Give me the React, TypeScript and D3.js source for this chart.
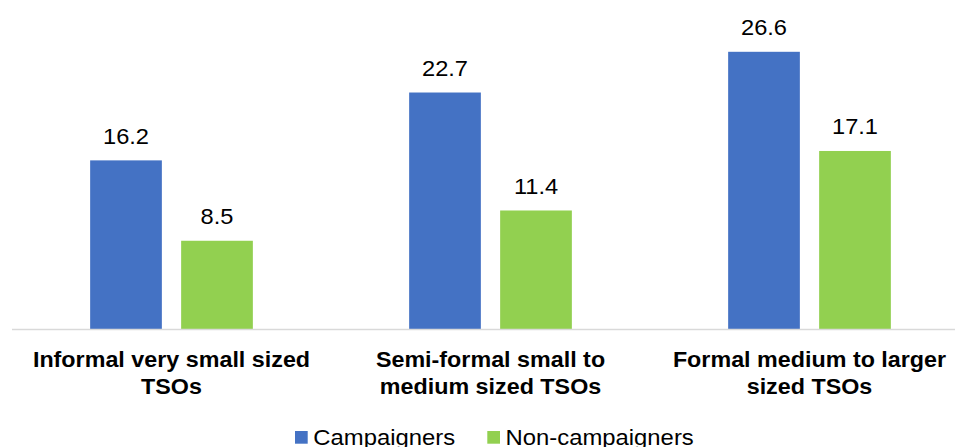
import React from "react";
import * as d3 from "d3";

const categories: string[][] = [
  ["Informal very small sized", "TSOs"],
  ["Semi-formal small to", "medium sized TSOs"],
  ["Formal medium to larger", "sized TSOs"],
];
const seriesNames = ["Campaigners", "Non-campaigners"];
const campaigners = [16.2, 22.7, 26.6];
const nonCampaigners = [8.5, 11.4, 17.1];
const seriesColors = ["#4472C4", "#92D050"];

const W = 955;
const H = 447;
const FONT = "Arial, 'Liberation Sans', Helvetica, sans-serif";
const SX = 1.06; // slight horizontal stretch of the text glyphs

export default function App() {
  const catKeys = categories.map((c) => c.join(" "));
  const x = d3.scaleBand<string>().domain(catKeys).range([12, 969]).paddingInner(0).paddingOuter(0);
  const groupW = 162.7;
  const y = d3.scaleLinear().domain([0, 30]).range([329.5, 16.3]);
  const values = [campaigners, nonCampaigners];

  const stretched = (tx: number, ty: number) => `translate(${tx},${ty}) scale(${SX},1)`;

  return (
    <svg
      width={W}
      height={H}
      style={{ position: "absolute", left: 0, top: 0, background: "#fff" }}
      fontFamily={FONT}
    >
      {catKeys.map((key, ci) => {
        const center = (x(key) ?? 0) + x.bandwidth() / 2;
        const inner = d3
          .scaleBand<string>()
          .domain(seriesNames)
          .range([center - groupW / 2, center + groupW / 2])
          .paddingInner(0.212)
          .paddingOuter(0);
        return (
          <g key={key}>
            {seriesNames.map((s, si) => {
              const v = values[si][ci];
              const bx = inner(s) ?? 0;
              const bw = inner.bandwidth();
              return (
                <g key={s}>
                  <rect x={bx} y={y(v)} width={bw} height={y(0) - y(v)} fill={seriesColors[si]} />
                  <text
                    transform={stretched(bx + bw / 2, y(v) - 16.7)}
                    textAnchor="middle"
                    fontSize={22.3}
                    fill="#000"
                  >
                    {v.toFixed(1)}
                  </text>
                </g>
              );
            })}
            {categories[ci].map((line, li) => (
              <text
                key={li}
                transform={stretched(center, 367.3 + li * 26.3)}
                textAnchor="middle"
                fontSize={22}
                fontWeight="bold"
                fill="#000"
              >
                {line}
              </text>
            ))}
          </g>
        );
      })}
      <line x1={12} x2={W} y1={y(0)} y2={y(0)} stroke="#D9D9D9" strokeWidth={1.5} />
      {seriesNames.map((s, si) => {
        const lx = si === 0 ? 295 : 487.3;
        return (
          <g key={s}>
            <rect x={lx} y={431} width={12.7} height={12.7} fill={seriesColors[si]} />
            <text transform={stretched(lx + 18.3, 445)} fontSize={22.5} fill="#000">
              {s}
            </text>
          </g>
        );
      })}
    </svg>
  );
}
